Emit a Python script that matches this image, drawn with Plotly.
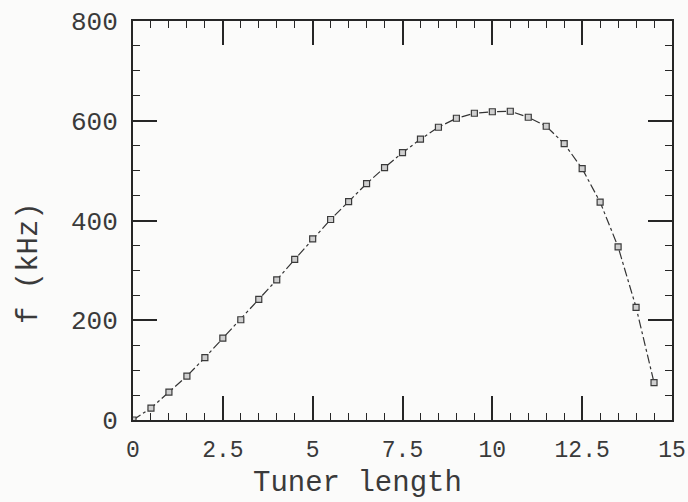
import plotly.graph_objects as go

# Resonant frequency versus tuner length
tuner_length = [0.0, 0.5, 1.0, 1.5, 2.0, 2.5, 3.0, 3.5, 4.0, 4.5, 5.0, 5.5,
                6.0, 6.5, 7.0, 7.5, 8.0, 8.5, 9.0, 9.5, 10.0, 10.5, 11.0,
                11.5, 12.0, 12.5, 13.0, 13.5, 14.0, 14.5]
freq_khz = [0, 24, 56, 88, 125, 164, 201, 242, 281, 322, 363, 402,
            438, 474, 506, 536, 563, 587, 605, 615, 618, 619, 607,
            589, 554, 504, 437, 347, 226, 75]

x_ticks = [0, 2.5, 5, 7.5, 10, 12.5, 15]
x_tick_text = ["0", "2.5", "5", "7.5", "10", "12.5", "15"]
y_ticks = [0, 200, 400, 600, 800]

ink = "#262626"
text_ink = "#3a3a3a"
mono = "Liberation Mono"

fig = go.Figure()
fig.add_trace(go.Scatter(
    x=tuner_length, y=freq_khz,
    mode="lines+markers",
    line=dict(color="#333333", width=1.2, dash="dashdot"),
    marker=dict(symbol="square", size=6, color="#cfcfcf",
                line=dict(width=1.2, color="#3a3a3a")),
    showlegend=False,
))

axis_common = dict(
    showline=True, linecolor=ink, linewidth=2, mirror="ticks",
    ticks="inside", ticklen=24, tickwidth=1.5, tickcolor=ink,
    showgrid=False, zeroline=False, automargin=False,
)

fig.update_xaxes(
    range=[0, 15], tickvals=x_ticks, ticktext=x_tick_text,
    tickfont=dict(family=mono, size=23, color=text_ink), ticklabelstandoff=7,
    minor=dict(dtick=0.5, ticks="inside", ticklen=7, tickwidth=1.2, tickcolor=ink),
    **axis_common,
)
fig.update_yaxes(
    range=[0, 800], tickvals=y_ticks,
    tickfont=dict(family=mono, size=26, color=text_ink), ticklabelstandoff=8,
    minor=dict(dtick=50, ticks="inside", ticklen=7, tickwidth=1.2, tickcolor=ink),
    **axis_common,
)

# Axis titles
fig.add_annotation(
    text="Tuner length", xref="paper", yref="paper",
    x=0.4174, y=-0.158, xanchor="center", yanchor="middle",
    showarrow=False, font=dict(family=mono, size=29, color=text_ink),
)
fig.add_annotation(
    text="f (kHz)", xref="paper", yref="paper",
    x=-0.191, y=0.3935, xanchor="center", yanchor="middle", textangle=-90,
    showarrow=False, font=dict(family=mono, size=29, color=text_ink),
)

fig.update_layout(
    width=688, height=502,
    margin=dict(l=133, r=16, t=21, b=82),
    paper_bgcolor="#fbfbfa", plot_bgcolor="#fbfbfa",
)

fig.write_html("out.html")
